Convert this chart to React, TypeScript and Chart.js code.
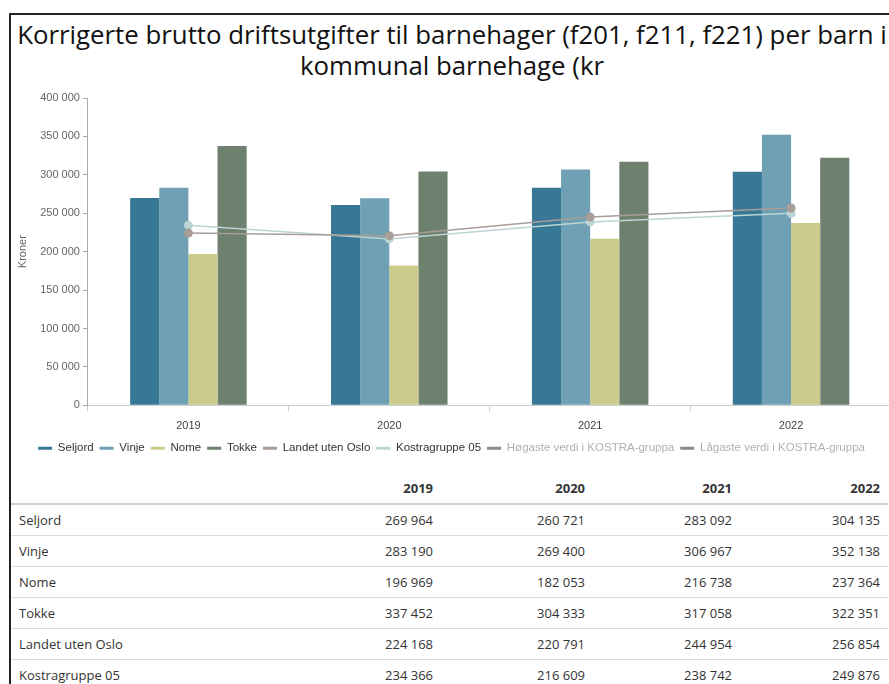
import React, { useEffect, useRef } from "react";
import { Chart, registerables } from "chart.js";

Chart.register(...registerables);

const years = ["2019", "2020", "2021", "2022"];
const seljord = [269964, 260721, 283092, 304135];
const vinje = [283190, 269400, 306967, 352138];
const nome = [196969, 182053, 216738, 237364];
const tokke = [337452, 304333, 317058, 322351];
const landetUtenOslo = [224168, 220791, 244954, 256854];
const kostragruppe05 = [234366, 216609, 238742, 249876];
const hogaste: number[] = [];
const lagaste: number[] = [];

const seriesNames = [
  "Seljord",
  "Vinje",
  "Nome",
  "Tokke",
  "Landet uten Oslo",
  "Kostragruppe 05",
  "Høgaste verdi i KOSTRA-gruppa",
  "Lågaste verdi i KOSTRA-gruppa",
];
const seriesColors = ["#367896", "#6fa0b4", "#cbcb8c", "#6e806e", "#a89d97", "#bcd4d4", "#8a8a8a", "#8a8a8a"];
const tableRows = [
  { name: "Seljord", values: seljord },
  { name: "Vinje", values: vinje },
  { name: "Nome", values: nome },
  { name: "Tokke", values: tokke },
  { name: "Landet uten Oslo", values: landetUtenOslo },
  { name: "Kostragruppe 05", values: kostragruppe05 },
];

const fmt = (n: number) => String(n).replace(/\B(?=(\d{3})+(?!\d))/g, " ");

export default function App() {
  const ref = useRef<HTMLCanvasElement | null>(null);

  useEffect(() => {
    if (!ref.current) return;
    const barDs = (i: number, data: number[]) => ({
      type: "bar" as const,
      label: seriesNames[i],
      data,
      backgroundColor: seriesColors[i],
      borderColor: seriesColors[i],
      borderWidth: 0,
      order: 2,
      categoryPercentage: 0.58,
      barPercentage: 1,
    });
    const lineDs = (i: number, data: number[]) => ({
      type: "line" as const,
      label: seriesNames[i],
      data,
      borderColor: seriesColors[i],
      backgroundColor: seriesColors[i],
      borderWidth: 1.5,
      pointRadius: 4.5,
      pointBorderWidth: 0,
      pointBackgroundColor: seriesColors[i],
      order: 1,
      tension: 0,
    });
    const chart = new Chart(ref.current, {
      data: {
        labels: years,
        datasets: [
          barDs(0, seljord),
          barDs(1, vinje),
          barDs(2, nome),
          barDs(3, tokke),
          lineDs(4, landetUtenOslo),
          lineDs(5, kostragruppe05),
          { ...lineDs(6, hogaste), hidden: true },
          { ...lineDs(7, lagaste), hidden: true },
        ] as any,
      },
      options: {
        animation: false,
        responsive: false,
        layout: { padding: { top: 17, left: 0, right: 4, bottom: 0 } },
        plugins: {
          tooltip: { enabled: false },
          legend: {
            position: "bottom",
            labels: {
              boxWidth: 14,
              boxHeight: 3,
              padding: 6,
              color: "#333",
              font: { family: "'Liberation Sans', Arial, sans-serif", size: 11.5 },
              generateLabels: (ch: any) =>
                ch.data.datasets.map((ds: any, i: number) => ({
                  text: ds.label,
                  fillStyle: seriesColors[i],
                  strokeStyle: seriesColors[i],
                  lineWidth: 0,
                  hidden: false,
                  fontColor: i >= 6 ? "#b0b0b0" : "#333",
                  datasetIndex: i,
                })),
            },
          },
        },
        scales: {
          x: {
            offset: true,
            afterFit: (scale: any) => {
              scale.height -= 4;
            },
            grid: { drawOnChartArea: false, offset: true, tickLength: 6, color: "#ccc" },
            border: { color: "#ccc" },
            ticks: {
              padding: 8,
              color: "#444",
              font: { family: "'Liberation Sans', Arial, sans-serif", size: 11 },
            },
          },
          y: {
            min: 0,
            max: 400000,
            grid: { drawOnChartArea: false, tickLength: 5, color: "#aaa" },
            border: { color: "#aaa" },
            ticks: {
              stepSize: 50000,
              padding: 3,
              color: "#666",
              font: { family: "'Liberation Sans', Arial, sans-serif", size: 11 },
              callback: (v: any) => fmt(Number(v)),
            },
            title: {
              display: true,
              text: "Kroner",
              color: "#666",
              padding: { top: 5, bottom: 8 },
              font: { family: "'Liberation Sans', Arial, sans-serif", size: 11 },
            },
          },
        },
      } as any,
    });
    return () => chart.destroy();
  }, []);

  const cell: React.CSSProperties = {
    padding: "0 8px",
    height: 30,
    borderBottom: "1px solid #dcdcdc",
    textAlign: "right",
    whiteSpace: "nowrap",
  };

  return (
    <div style={{ position: "absolute", left: 0, top: 0, width: 889, height: 684, overflow: "hidden", background: "#fff" }}>
      <div
        style={{
          position: "absolute",
          left: 9,
          top: 13,
          width: 900,
          height: 720,
          borderLeft: "2px solid #222",
          borderTop: "2px solid #222",
          boxSizing: "border-box",
        }}
      >
        <div
          style={{
            width: 882,
            paddingTop: 4,
            textAlign: "center",
            fontFamily: "'Open Sans', sans-serif",
            fontSize: 25.8,
            lineHeight: "31px",
            color: "#111",
            whiteSpace: "nowrap",
          }}
        >
          Korrigerte brutto driftsutgifter til barnehager (f201, f211, f221) per barn i
          <br />
          kommunal barnehage (kr
        </div>
        <canvas ref={ref} width={885} height={383} style={{ display: "block", width: 885, height: 383 }} />
        <table
          style={{
            marginTop: 9,
            width: 877,
            borderCollapse: "collapse",
            tableLayout: "fixed",
            fontFamily: "'Open Sans', sans-serif",
            fontSize: 13,
            color: "#333",
          }}
        >
          <colgroup>
            <col style={{ width: 274 }} />
            <col style={{ width: 156 }} />
            <col style={{ width: 152 }} />
            <col style={{ width: 147 }} />
            <col style={{ width: 148 }} />
          </colgroup>
          <thead>
            <tr>
              <th style={{ ...cell, borderBottom: "2px solid #d0d0d0" }}></th>
              {years.map((y) => (
                <th key={y} style={{ ...cell, borderBottom: "2px solid #d0d0d0", fontWeight: 700 }}>
                  {y}
                </th>
              ))}
            </tr>
          </thead>
          <tbody>
            {tableRows.map((r) => (
              <tr key={r.name}>
                <td style={{ ...cell, textAlign: "left", height: 30 }}>{r.name}</td>
                {r.values.map((v, i) => (
                  <td key={i} style={{ ...cell, height: 30 }}>
                    {fmt(v)}
                  </td>
                ))}
              </tr>
            ))}
          </tbody>
        </table>
      </div>
    </div>
  );
}
